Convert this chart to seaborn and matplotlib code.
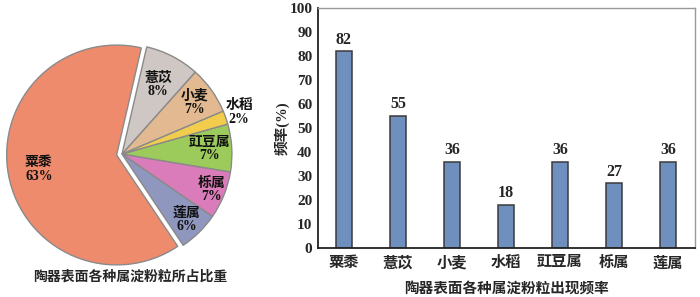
import matplotlib
matplotlib.use("Agg")
import matplotlib.pyplot as plt
import seaborn as sns
import numpy as np
import pandas as pd

# ---- data ----
pie_labels = ["粟黍", "莲属", "栎属", "豇豆属", "水稻", "小麦", "薏苡"]
pie_values = [63, 6, 7, 7, 2, 7, 8]
pie_colors = ["#EF8B6D", "#9097BE", "#D97CB9", "#9DCB5B", "#F2CD4D", "#E2B990", "#CEC7C3"]
pie_label_dist = [0.72, 0.84, 0.88, 0.80, 1.13, 0.81, 0.71]

bar_categories = ["粟黍", "薏苡", "小麦", "水稻", "豇豆属", "栎属", "莲属"]
bar_values = [82, 55, 36, 18, 36, 27, 36]
y_ticks = list(range(0, 101, 10))

pie_title = "陶器表面各种属淀粉粒所占比重"
bar_title = "陶器表面各种属淀粉粒出现频率"
y_label = "频率(%)"

sns.set_style("white")
plt.rcParams['font.family'] = ['Liberation Serif', 'Noto Sans CJK SC', 'DejaVu Sans']
plt.rcParams['font.weight'] = 'bold'

W, H = 700, 297
fig = plt.figure(figsize=(W / 100, H / 100), dpi=100)

# ---- pie ----
cx, cy, half = 122, 154, 122
axp = fig.add_axes([(cx - half) / W, (H - cy - half) / H, 2 * half / W, 2 * half / H])
explode = [0.05] + [0.0] * (len(pie_values) - 1)
wedges, _ = axp.pie(pie_values, colors=pie_colors, startangle=77, explode=explode,
                    counterclock=True,
                    wedgeprops=dict(edgecolor="#8a8a8a", linewidth=1.0))
axp.set_xlim(-1.11, 1.11)
axp.set_ylim(-1.11, 1.11)
axp.set_aspect("equal")
axp.axis("off")
for w, lab, val, d in zip(wedges, pie_labels, pie_values, pie_label_dist):
    ang = np.deg2rad((w.theta1 + w.theta2) / 2)
    axp.text(d * np.cos(ang) + w.center[0], d * np.sin(ang) + w.center[1],
             f"{lab}\n{val}%", ha="center", va="center", fontsize=10,
             fontweight="bold", linespacing=1.05, color="#111")
fig.text(130 / W, 1 - 277 / H, pie_title, ha="center", va="center",
         fontsize=10, fontweight="bold")

# ---- bar ----
L, R, T, B = 318, 695, 8, 248
axb = fig.add_axes([L / W, (H - B) / H, (R - L) / W, (B - T) / H])
df = pd.DataFrame({"cat": bar_categories, "val": bar_values})
sns.barplot(data=df, x="cat", y="val", ax=axb, color="#6F8FBE", saturation=1,
            width=0.31, edgecolor="#3a3a3a", linewidth=1.1)
axb.set_xlim(-0.48, len(bar_categories) - 0.5)
axb.set_ylim(0, 100)
axb.set_yticks(y_ticks)
axb.set_yticklabels([str(t) for t in y_ticks], fontsize=11, fontweight="bold")
axb.set_xticks(range(len(bar_categories)))
axb.set_xticklabels(bar_categories, fontsize=11, fontweight="bold")
axb.tick_params(axis="y", length=0, pad=4)
axb.tick_params(axis="x", length=0, pad=6)
axb.set_xlabel(bar_title, fontsize=10.5, fontweight="bold", labelpad=8)
axb.set_ylabel(y_label, fontsize=10.5, fontweight="bold", labelpad=0)
for i, v in enumerate(bar_values):
    axb.text(i, v + 1.5, str(v), ha="center", va="bottom", fontsize=11.5, fontweight="bold")
for s in ["left", "bottom"]:
    axb.spines[s].set_color("#222")
    axb.spines[s].set_linewidth(1.3)
for s in ["top", "right"]:
    axb.spines[s].set_color("#999")
    axb.spines[s].set_linewidth(1.0)

fig.savefig("out.png", dpi=100)
